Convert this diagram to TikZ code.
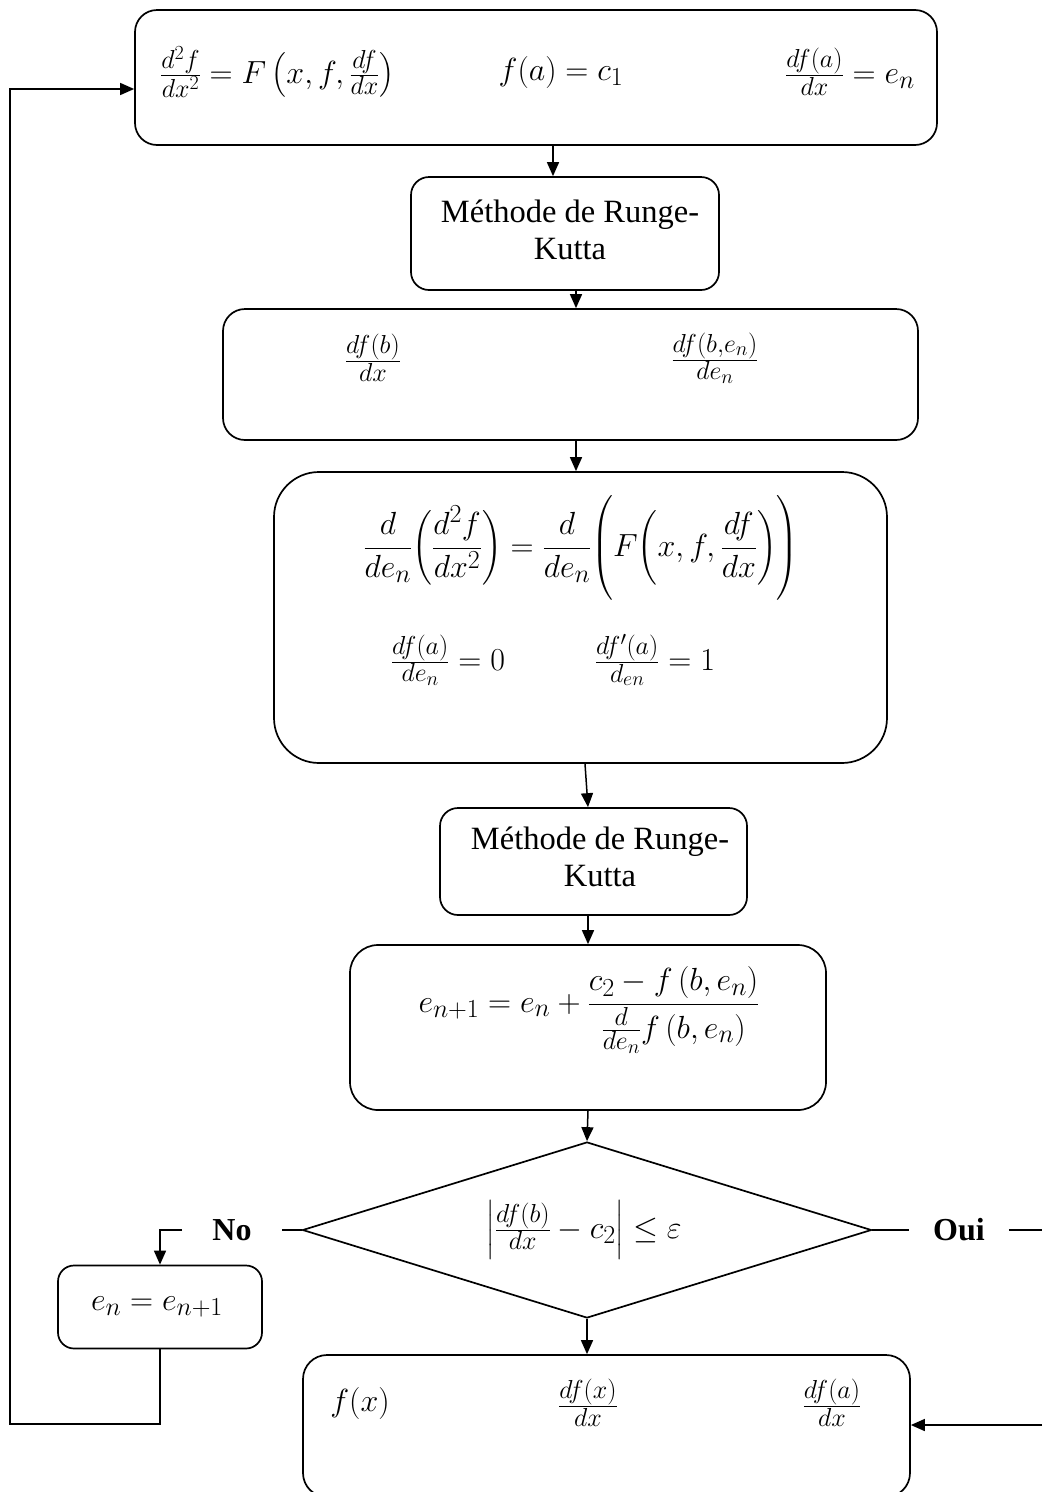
\RequirePackage{fix-cm}
\documentclass[tikz,border=0pt]{standalone}
\usepackage[no-math]{fontspec}
\setmainfont{Liberation Serif}
\usepackage{amsmath}
\DeclareMathSizes{32}{32}{26}{20}
\usetikzlibrary{arrows.meta,shapes.geometric}
\begin{document}
\begin{tikzpicture}[x=1pt,y=-1pt,
  box/.style={draw,line width=1.7pt,rounded corners=#1,inner sep=0pt},
  box/.default=20pt,
  sm/.style={inner sep=0pt,font=\fontsize{32}{38}\selectfont},
  bg/.style={inner sep=0pt,font=\fontsize{32}{38}\selectfont},
  rk/.style={inner sep=0pt,align=center,font=\fontsize{32.5}{37}\selectfont},
  yn/.style={inner ysep=0pt,font=\fontsize{32}{36}\selectfont\bfseries},
  ln/.style={line width=1.5pt},
  arr/.style={line width=1.5pt,-{Triangle[length=14pt,width=12pt]}},
]
\useasboundingbox (0,0) rectangle (1042,1492);

% boxes
\node[box=22pt,minimum width=802pt,minimum height=135pt] (b1) at (536,77.5) {};
\node[box=18pt,minimum width=308pt,minimum height=113pt] (b2) at (565,233.5) {};
\node[box=22pt,minimum width=695pt,minimum height=131pt] (b3) at (570.5,374.5) {};
\node[box=45pt,minimum width=613pt,minimum height=291pt] (b4) at (580.5,617.5) {};
\node[box=18pt,minimum width=307pt,minimum height=107pt] (b5) at (593.5,861.5) {};
\node[box=28pt,minimum width=476pt,minimum height=165pt] (b6) at (588,1027.5) {};
\node[draw,line width=1.7pt,shape=diamond,inner sep=0pt,minimum width=569pt,minimum height=176pt] (dia) at (587,1230) {};
\node[box=16pt,minimum width=204pt,minimum height=83pt] (en) at (160,1307) {};
\node[box=24pt,minimum width=607pt,minimum height=142pt] (b7) at (606.5,1426) {};

% texts
\node[sm,anchor=west] (t1a) at (160,72) {$\tfrac{d^2f}{dx^2}=F\left(x,f,\tfrac{df}{dx}\right)$};
\node[sm] (t1b) at (561,72) {$f(a)=c_1$};
\node[sm] (t1c) at (850,72) {$\tfrac{df(a)}{dx}=e_n$};
\node[rk] (t2) at (570,230) {Méthode de Runge-\\Kutta};
\node[sm] (t3a) at (373,358) {$\tfrac{df(b)}{dx}$};
\node[sm] (t3b) at (715,358) {$\tfrac{df(b,e_n)}{de_n}$};
\node[bg] (t4a) at (581,548) {$\dfrac{d}{de_n}\biggl(\dfrac{d^2f}{dx^2}\biggr)=\dfrac{d}{de_n}\Biggl(F\biggl(x,f,\dfrac{df}{dx}\biggr)\Biggr)$};
\node[bg] (t4b) at (448,660) {$\tfrac{df(a)}{de_n}=0$};
\node[bg] (t4c) at (655,660) {$\tfrac{df'(a)}{d_{en}}=1$};
\node[rk] (t5) at (600,857) {Méthode de Runge-\\Kutta};
\node[bg] (t6) at (589,1010) {$e_{n+1}=e_n+\dfrac{c_2-f\,(b,e_n)}{\tfrac{d}{de_n}f\,(b,e_n)}$};
\node[sm] (td) at (584,1230) {$\left|\tfrac{df(b)}{dx}-c_2\right|\leq\varepsilon$};
\node[sm] (te) at (157,1307) {$e_n=e_{n+1}$};
\node[sm] (t7a) at (360,1403) {$f(x)$};
\node[sm] (t7b) at (588,1403) {$\tfrac{df(x)}{dx}$};
\node[sm] (t7c) at (832,1403) {$\tfrac{df(a)}{dx}$};
\node[yn,inner xsep=30pt] (no) at (232,1230) {No};
\node[yn,inner xsep=24pt] (oui) at (959,1230) {Oui};

% reference coordinates
\coordinate (x552) at (553,0);
\coordinate (x576) at (576,0);
\coordinate (x585) at (585,0);
\coordinate (x588) at (588,0);
\coordinate (lpb) at (10,1424);
\coordinate (lpt) at (10,89);
\coordinate (re1) at (1042,1230);
\coordinate (re2) at (1042,1425);

% connectors
\draw[arr] (b1.south -| x552) -- (b2.north -| x552);
\draw[arr] (b2.south -| x576) -- (b3.north -| x576);
\draw[arr] (b3.south -| x576) -- (b4.north -| x576);
\draw[arr] (b4.south -| x585) -- (b5.north -| x588);
\draw[arr] (b5.south -| x588) -- (b6.north -| x588);
\draw[arr] (b6.south -| x588) -- (dia.north);
\draw[arr] (dia.south) -- (b7.north -| dia.south);
\draw[ln] (dia.west) -- (no.east);
\draw[arr] (no.west) -| (en.north);
\draw[arr] (en.south) |- (lpb) -- (lpt) -- (b1.west |- lpt);
\draw[ln] (dia.east) -- (oui.west);
\draw[ln] (oui.east) -- (re1);
\draw[arr] (re2) -- (b7.east |- re2);
\end{tikzpicture}
\end{document}
